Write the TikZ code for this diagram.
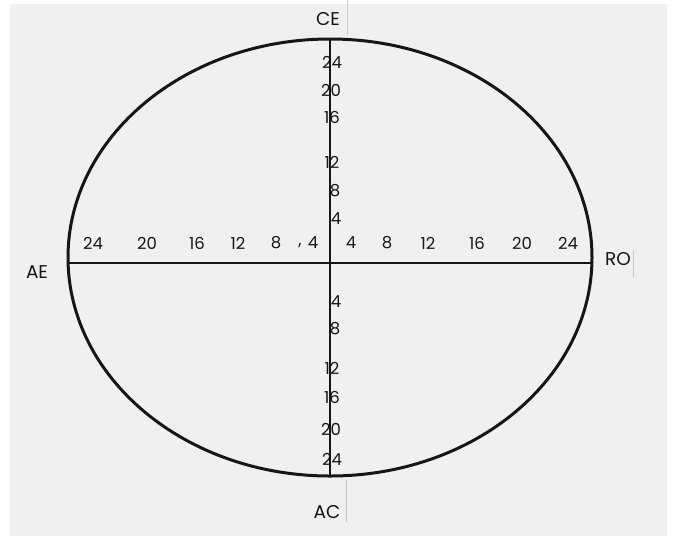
\documentclass[tikz,border=0pt]{standalone}
\usepackage{fontspec}
\setmainfont{Poppins}
\usetikzlibrary{shapes.geometric}
\definecolor{bg}{HTML}{F0F0F0}
\definecolor{ink}{HTML}{161616}
\definecolor{faint}{HTML}{C8C8C8}
\begin{document}
\begin{tikzpicture}[x=1pt,y=-1pt,
  endlbl/.style={inner sep=0pt, font=\fontsize{18.5}{18.5}\selectfont, text=ink},
  ticklbl/.style={inner sep=0pt, font=\fontsize{16.5}{16.5}\selectfont, text=ink},
  axisline/.style={draw=ink, line width=1.8pt},
  rimline/.style={draw=ink, line width=3pt},
  faintline/.style={draw=faint, line width=0.6pt}]
\useasboundingbox (0,0) rectangle (676,536);
\fill[bg] (10,4) rectangle (667,536);
% ellipse
\node[ellipse, rimline, minimum width=524pt, minimum height=437pt, inner sep=0pt] (ell) at (330,257.5) {};
% axes
\coordinate (L) at (68.1,263);
\coordinate (R) at (591.9,263);
\coordinate (T) at (330,39);
\coordinate (B) at (330,476);
\draw[axisline] (L) -- (R);
\draw[axisline] (T) -- (B);
% end labels
\node[endlbl] (ce) at (328,19) {CE};
\node[endlbl] (ac) at (327,512) {AC};
\node[endlbl] (ae) at (37,272) {AE};
\node[endlbl] (ro) at (618,259) {RO};
\coordinate (ce1) at (347,0); \coordinate (ce2) at (347,35);
\coordinate (ac1) at (346,480); \coordinate (ac2) at (346,522);
\coordinate (ro1) at (633,250); \coordinate (ro2) at (633,277);
\draw[faintline] (ce1) -- (ce2);
\draw[faintline] (ac1) -- (ac2);
\draw[faintline] (ro1) -- (ro2);
% horizontal ticks
\node[ticklbl] (hl24) at (93,243) {24};
\node[ticklbl] (hl20) at (147,243) {20};
\node[ticklbl] (hl16) at (197,243) {16};
\node[ticklbl] (hl12) at (238,243) {12};
\node[ticklbl] (hl8) at (276,243) {8};
\node[ticklbl] (hlc) at (300,246) {,};
\node[ticklbl] (hl4) at (313,243) {4};
\node[ticklbl] (hr4) at (351,243) {4};
\node[ticklbl] (hr8) at (387,243) {8};
\node[ticklbl] (hr12) at (428,243) {12};
\node[ticklbl] (hr16) at (477,243) {16};
\node[ticklbl] (hr20) at (522,243) {20};
\node[ticklbl] (hr24) at (568,243) {24};
% vertical ticks
\node[ticklbl] (vt24) at (332,62) {24};
\node[ticklbl] (vt20) at (331,90) {20};
\node[ticklbl] (vt16) at (332,117) {16};
\node[ticklbl] (vt12) at (332,162) {12};
\node[ticklbl] (vt8) at (335,191) {8};
\node[ticklbl] (vt4) at (336,219) {4};
\node[ticklbl] (vb4) at (336,302) {4};
\node[ticklbl] (vb8) at (335,329) {8};
\node[ticklbl] (vb12) at (332,368) {12};
\node[ticklbl] (vb16) at (332,397) {16};
\node[ticklbl] (vb20) at (331,429) {20};
\node[ticklbl] (vb24) at (332,459) {24};
\end{tikzpicture}
\end{document}
